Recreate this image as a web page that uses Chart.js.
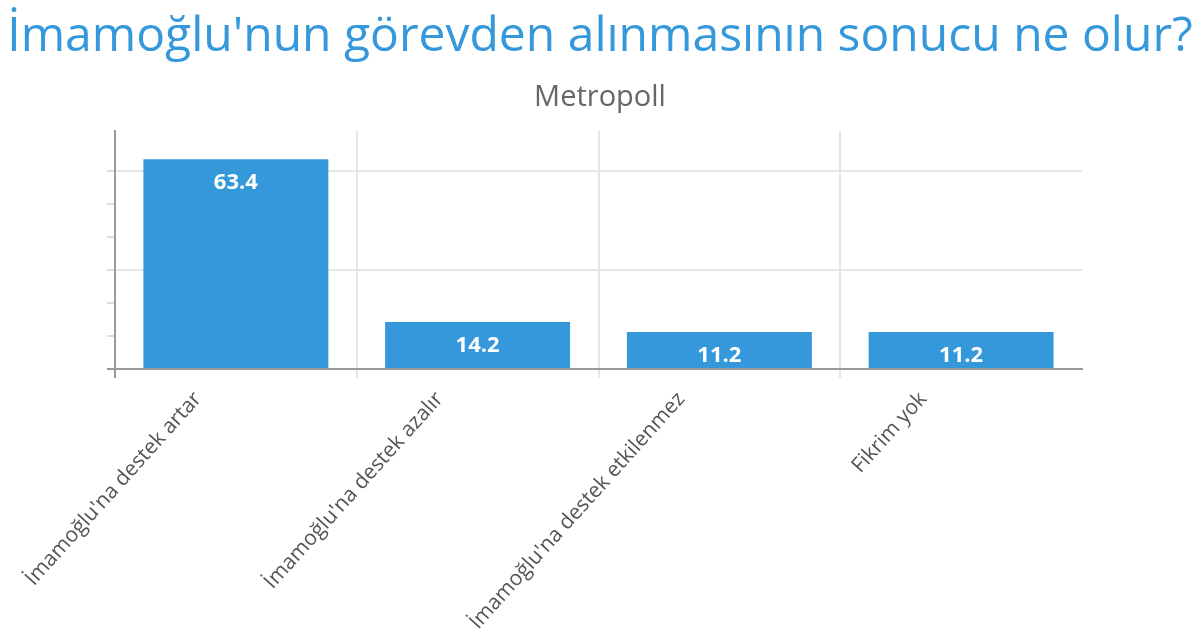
<!DOCTYPE html>
<html>
<head>
<meta charset="utf-8">
<script src="https://cdn.jsdelivr.net/npm/chart.js@4"></script>
<style>
  body { margin: 0; background: #fff; }
  #wrap { width: 1200px; height: 642px; position: relative; }
</style>
</head>
<body>
<div id="wrap"><canvas id="chart"></canvas></div>
<script>
// data
const categories = [
    "İmamoğlu'na destek artar",
    "İmamoğlu'na destek azalır",
    "İmamoğlu'na destek etkilenmez",
    "Fikrim yok"
];
const values = [63.4, 14.2, 11.2, 11.2];
const titleText = "İmamoğlu'nun görevden alınmasının sonucu ne olur?";
const subtitleText = "Metropoll";

const blue = '#3498db';

// white value labels inside the top of each bar
const valueLabels = {
    id: 'valueLabels',
    afterDatasetsDraw(chart) {
        const ctx = chart.ctx;
        const meta = chart.getDatasetMeta(0);
        ctx.save();
        ctx.fillStyle = '#fff';
        ctx.font = 'bold 22px "Open Sans"';
        ctx.textAlign = 'center';
        ctx.textBaseline = 'alphabetic';
        meta.data.forEach((bar, i) => {
            ctx.fillText(values[i].toFixed(1), bar.x, bar.y + 30);
        });
        ctx.restore();
    }
};

new Chart(document.getElementById('chart'), {
    type: 'bar',
    data: {
        labels: categories,
        datasets: [{
            data: values,
            backgroundColor: blue,
            borderWidth: 0,
            categoryPercentage: 1,
            barPercentage: 0.765
        }]
    },
    options: {
        responsive: true,
        maintainAspectRatio: false,
        animation: false,
        layout: { padding: 0 },
        plugins: {
            legend: { display: false },
            tooltip: { enabled: false },
            title: {
                display: true,
                text: titleText,
                color: blue,
                font: { family: 'Open Sans', size: 48, weight: 'normal' },
                padding: { top: 9, bottom: 4.4 }
            },
            subtitle: {
                display: true,
                text: subtitleText,
                color: '#666',
                font: { family: 'Open Sans', size: 29, weight: 'normal' },
                padding: { top: 9, bottom: 16 }
            }
        },
        scales: {
            x: {
                grid: {
                    offset: true,
                    tickLength: 9,
                    lineWidth: 2,
                    color: c => (c.type === 'tick' && c.index > 0) ? '#e6e6e6' : 'transparent',
                    tickColor: c => c.type !== 'tick' ? 'transparent' : (c.index === 0 ? '#999' : '#e6e6e6')
                },
                border: { color: '#999', width: 2 },
                ticks: {
                    color: '#555',
                    font: { family: 'Open Sans', size: 21 },
                    minRotation: 48,
                    maxRotation: 48,
                    padding: 9,
                    labelOffset: -38,
                    autoSkip: false
                },
                afterFit: s => { s.height = 273; }
            },
            y: {
                min: 0,
                max: 72,
                grid: {
                    tickLength: 8,
                    lineWidth: 2,
                    color: c => (c.tick && c.tick.value > 0 && c.tick.value % 30 === 0) ? '#e6e6e6' : 'transparent',
                    tickColor: c => {
                        if (!c.tick) return 'transparent';
                        if (c.tick.value === 0) return '#999';
                        return c.tick.value % 10 === 0 ? '#ddd' : 'transparent';
                    }
                },
                border: { color: '#999', width: 2 },
                ticks: { display: false, stepSize: 10 },
                afterFit: s => { s.width = 115; }
            },
            // empty axis on the right, only to keep the plot narrower than the title
            yRight: {
                position: 'right',
                grid: { display: false },
                border: { display: false },
                ticks: { display: false },
                afterFit: s => { s.width = 118; }
            }
        }
    },
    plugins: [valueLabels]
});
</script>
</body>
</html>
